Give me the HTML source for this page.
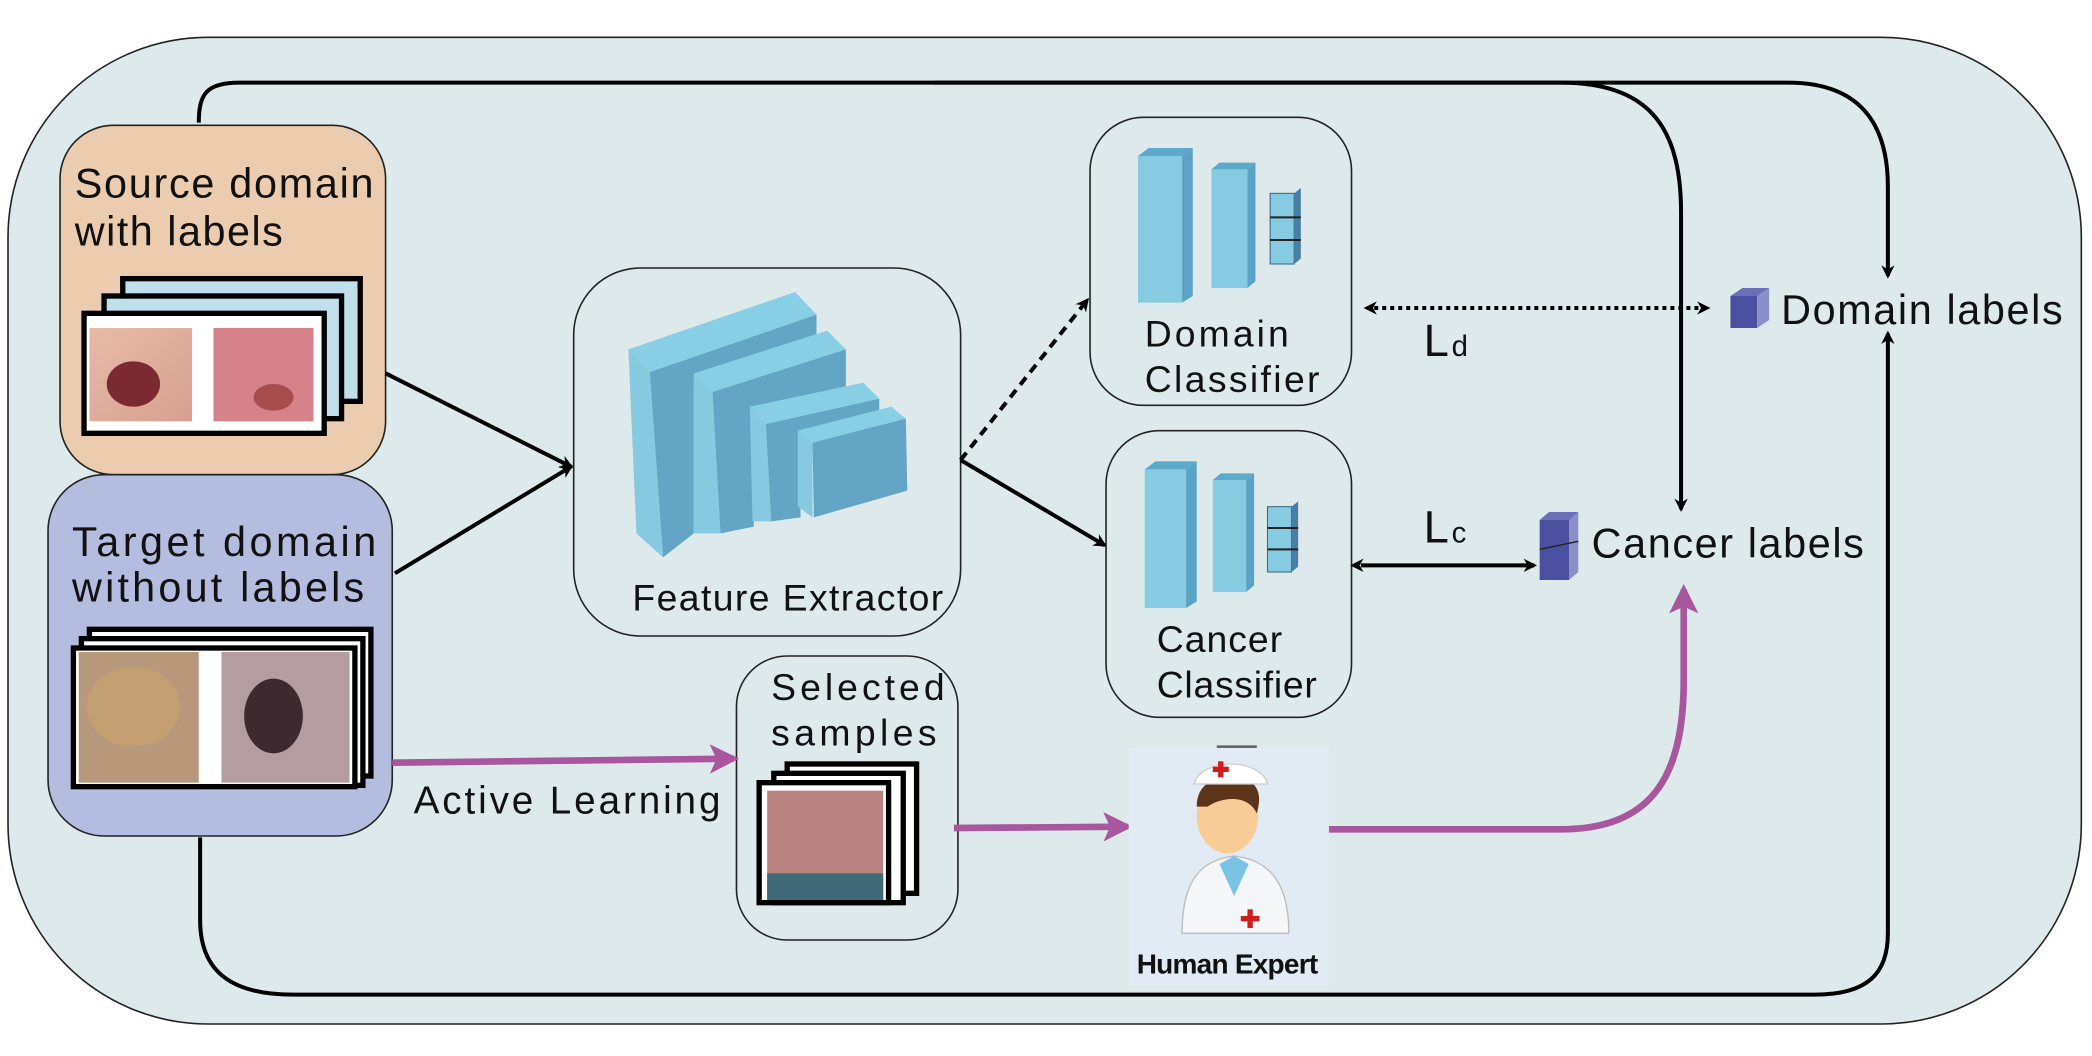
<!DOCTYPE html>
<html><head><meta charset="utf-8"><style>
html,body{margin:0;padding:0;background:#fff;}
svg{display:block;}
text{font-family:"Liberation Sans",Arial,sans-serif;fill:#111;}
</style></head><body>
<svg width="2092" height="1056" viewBox="0 0 1568 792" preserveAspectRatio="none" xmlns="http://www.w3.org/2000/svg">
<defs>
<marker id="ah" markerWidth="10" markerHeight="10" refX="8" refY="5" orient="auto" markerUnits="userSpaceOnUse"><path d="M0,0 L10,5 L0,10 L3,5 Z" fill="#000"/></marker>
<marker id="ahs" markerWidth="10" markerHeight="10" refX="2" refY="5" orient="auto-start-reverse" markerUnits="userSpaceOnUse"><path d="M0,0 L10,5 L0,10 L3,5 Z" fill="#000"/></marker>
<marker id="pa" markerWidth="22" markerHeight="22" refX="18" refY="11" orient="auto" markerUnits="userSpaceOnUse"><path d="M0,0 L22,11 L0,22 L5,11 Z" fill="#a8579e"/></marker>
<linearGradient id="skin1" x1="0" y1="0" x2="1" y2="1"><stop offset="0" stop-color="#e8b9a8"/><stop offset="1" stop-color="#d6a090"/></linearGradient>
</defs>
<rect x="6" y="28" width="1554" height="740" rx="150" fill="#dde9eb" stroke="#222" stroke-width="1.2"/>
<path d="M149,92 C149,70 155,62 180,62 L1170,62 C1240,62 1260,100 1260,160 L1260,382" fill="none" stroke="#000" stroke-width="3" marker-end="url(#ah)"/>
<path d="M700,62 L1340,62 C1400,62 1415,100 1415,140 L1415,207" fill="none" stroke="#000" stroke-width="3" marker-end="url(#ah)"/>
<path d="M150,628 L150,690 C150,730 175,746 220,746 L1360,746 C1400,746 1415,730 1415,700 L1415,250" fill="none" stroke="#000" stroke-width="3" marker-end="url(#ah)"/>
<rect x="45" y="94" width="244" height="262" rx="40" fill="#ecccae" stroke="#222" stroke-width="1.2"/>
<text x="56" y="148" font-size="31" textLength="224">Source domain</text>
<text x="56" y="184" font-size="31" textLength="156">with labels</text>
<rect x="92" y="209" width="178" height="92" fill="#bfe0ea" stroke="#000" stroke-width="4"/>
<rect x="78" y="222" width="178" height="92" fill="#bfe0ea" stroke="#000" stroke-width="4"/>
<rect x="63" y="235" width="180" height="90" fill="#fff" stroke="#000" stroke-width="4"/>
<rect x="67" y="246" width="77" height="70" fill="url(#skin1)"/>
<ellipse cx="100" cy="288" rx="20" ry="17" fill="#7a2a30"/>
<rect x="160" y="246" width="75" height="70" fill="#d5828a"/>
<ellipse cx="205" cy="298" rx="15" ry="10" fill="#a84d4e"/>
<rect x="36" y="356" width="258" height="271" rx="42" fill="#b4bddf" stroke="#222" stroke-width="1.2"/>
<text x="54" y="417" font-size="31" textLength="228">Target domain</text>
<text x="54" y="451" font-size="31" textLength="219">without labels</text>
<rect x="67" y="472" width="211" height="110" fill="#fff" stroke="#000" stroke-width="4"/>
<rect x="61" y="479" width="211" height="110" fill="#fff" stroke="#000" stroke-width="4"/>
<rect x="55" y="486" width="211" height="104" fill="#fff" stroke="#000" stroke-width="4"/>
<rect x="59" y="489" width="90" height="98" fill="#b7987a"/>
<ellipse cx="100" cy="530" rx="35" ry="30" fill="#c4a26e" opacity="0.7"/>
<rect x="166" y="489" width="96" height="98" fill="#b39da0"/>
<ellipse cx="205" cy="537" rx="22" ry="28" fill="#3d2a30"/>
<line x1="289" y1="280" x2="428" y2="350" stroke="#000" stroke-width="3" marker-end="url(#ah)"/>
<line x1="296" y1="430" x2="428" y2="350" stroke="#000" stroke-width="3" marker-end="url(#ah)"/>
<rect x="430" y="201" width="290" height="276" rx="50" fill="#dde9eb" stroke="#222" stroke-width="1.2"/>
<polygon points="471,262 596,219 612,236 487,279" fill="#88cfe6"/>
<polygon points="471,262 487,279 497,418 477,400" fill="#86c9e0"/>
<polygon points="487,279 612,236 612,260 520,290 520,400 497,418" fill="#64a5c5"/>
<polygon points="520,280 620,248 634,262 534,294" fill="#88cfe6"/>
<polygon points="520,280 534,294 540,400 520,400" fill="#86c9e0"/>
<polygon points="534,294 634,262 634,290 565,310 565,395 540,400" fill="#64a5c5"/>
<polygon points="562,305 647,287 659,299 574,318" fill="#88cfe6"/>
<polygon points="562,305 574,318 578,391 564,391" fill="#86c9e0"/>
<polygon points="574,318 659,299 659,322 600,330 600,388 578,391" fill="#64a5c5"/>
<polygon points="598,323 668,305 679,314 609,332" fill="#88cfe6"/>
<polygon points="598,323 609,332 609,388 598,380" fill="#86c9e0"/>
<polygon points="609,332 679,314 680,368 610,388" fill="#64a5c5"/>
<text x="474" y="458" font-size="28" textLength="233">Feature Extractor</text>
<line x1="720" y1="345" x2="815" y2="225" stroke="#000" stroke-width="3" stroke-dasharray="7,5" marker-end="url(#ah)"/>
<line x1="720" y1="345" x2="828" y2="409" stroke="#000" stroke-width="3" marker-end="url(#ah)"/>
<rect x="817" y="88" width="196" height="216" rx="40" fill="#dde9eb" stroke="#222" stroke-width="1.2"/>
<g>
<rect x="853" y="117" width="33" height="110" fill="#86cbe2"/><polygon points="853,117 861,111 894,111 886,117" fill="#5da9ca"/><polygon points="886,117 894,111 894,222 886,227" fill="#5aa3c4"/>
<rect x="908" y="127" width="27" height="89" fill="#86cbe2"/><polygon points="908,127 914,122 941,122 935,127" fill="#5da9ca"/><polygon points="935,127 941,122 941,211 935,216" fill="#5aa3c4"/>
<rect x="952" y="145" width="18" height="53" fill="#86cbe2" stroke="#3b6b88" stroke-width="0.8"/><polygon points="970,145 975,141 975,194 970,198" fill="#4a7fa5"/>
<line x1="952" y1="163" x2="975" y2="163" stroke="#222" stroke-width="1.5"/><line x1="952" y1="180" x2="975" y2="180" stroke="#222" stroke-width="1.5"/>
</g>
<text x="858" y="260" font-size="28" textLength="108">Domain</text>
<text x="858" y="294" font-size="28" textLength="131">Classifier</text>
<rect x="829" y="323" width="184" height="215" rx="40" fill="#dde9eb" stroke="#222" stroke-width="1.2"/>
<g>
<rect x="858" y="352" width="31" height="104" fill="#86cbe2"/><polygon points="858,352 866,346 897,346 889,352" fill="#5da9ca"/><polygon points="889,352 897,346 897,451 889,456" fill="#5aa3c4"/>
<rect x="909" y="360" width="25" height="84" fill="#86cbe2"/><polygon points="909,360 915,355 940,355 934,360" fill="#5da9ca"/><polygon points="934,360 940,355 940,439 934,444" fill="#5aa3c4"/>
<rect x="950" y="380" width="18" height="49" fill="#86cbe2" stroke="#3b6b88" stroke-width="0.8"/><polygon points="968,380 973,376 973,425 968,429" fill="#4a7fa5"/>
<line x1="950" y1="396" x2="973" y2="396" stroke="#222" stroke-width="1.5"/><line x1="950" y1="412" x2="973" y2="412" stroke="#222" stroke-width="1.5"/>
</g>
<text x="867" y="489" font-size="28" textLength="94">Cancer</text>
<text x="867" y="523" font-size="28" textLength="120">Classifier</text>
<line x1="1030" y1="231" x2="1280" y2="231" stroke="#000" stroke-width="3" stroke-dasharray="3,3" marker-end="url(#ah)" marker-start="url(#ahs)"/>
<text x="1067" y="267" font-size="34">L</text><text x="1088" y="267" font-size="22">d</text>
<line x1="1020" y1="424" x2="1150" y2="424" stroke="#000" stroke-width="3" marker-end="url(#ah)" marker-start="url(#ahs)"/>
<text x="1067" y="407" font-size="34">L</text><text x="1088" y="407" font-size="22">c</text>
<rect x="1297" y="222" width="20" height="24" fill="#4a4fa0"/><polygon points="1317,222 1326,216 1326,240 1317,246" fill="#8a8fc8"/><polygon points="1297,222 1306,216 1326,216 1317,222" fill="#6a70b8"/>
<text x="1335" y="243" font-size="31" textLength="211">Domain labels</text>
<rect x="1154" y="390" width="22" height="45" fill="#4a4fa0"/><polygon points="1176,390 1183,384 1183,429 1176,435" fill="#8a8fc8"/><polygon points="1154,390 1161,384 1183,384 1176,390" fill="#6a70b8"/>
<line x1="1154" y1="412" x2="1183" y2="406" stroke="#222" stroke-width="1"/>
<text x="1193" y="418" font-size="31" textLength="204">Cancer labels</text>
<rect x="552" y="492" width="166" height="213" rx="38" fill="#dde9eb" stroke="#222" stroke-width="1.2"/>
<text x="578" y="525" font-size="28" textLength="130">Selected</text>
<text x="578" y="559" font-size="28" textLength="124">samples</text>
<rect x="590" y="573" width="97" height="97" fill="#fff" stroke="#000" stroke-width="4"/>
<rect x="580" y="580" width="97" height="97" fill="#fff" stroke="#000" stroke-width="4"/>
<rect x="569" y="587" width="97" height="90" fill="#fff" stroke="#000" stroke-width="4"/>
<rect x="575" y="593" width="87" height="82" fill="#b9817f"/>
<rect x="575" y="655" width="87" height="20" fill="#3f6a78"/>
<line x1="294" y1="572" x2="550" y2="569" stroke="#a8579e" stroke-width="5" marker-end="url(#pa)"/>
<text x="310" y="610" font-size="29" textLength="230">Active Learning</text>
<line x1="715" y1="621" x2="845" y2="620" stroke="#a8579e" stroke-width="5" marker-end="url(#pa)"/>
<path d="M996,622 L1170,622 C1240,622 1262,580 1262,510 L1262,442" fill="none" stroke="#a8579e" stroke-width="5" marker-end="url(#pa)"/>
<rect x="846" y="561" width="150" height="178" fill="#e2ebf3"/>
<rect x="912" y="559" width="30" height="2" fill="#666"/>
<path d="M886,700 C886,660 900,645 925,642 C950,645 966,660 966,700 Z" fill="#f4f6f8" stroke="#bbb"/>
<polygon points="914,648 925,642 936,648 925,672" fill="#79c4e4"/>
<ellipse cx="920" cy="612" rx="23" ry="28" fill="#f7cc97"/>
<path d="M897,605 C897,585 915,580 935,585 C945,590 945,600 942,610 C935,595 915,598 905,605 Z" fill="#5b3419"/>
<path d="M895,588 C900,568 945,568 950,588 Z" fill="#fff" stroke="#ccc"/>
<rect x="913" y="571" width="4" height="12" fill="#d01c1c"/><rect x="909" y="575" width="12" height="4" fill="#d01c1c"/>
<rect x="935" y="682" width="4" height="14" fill="#d01c1c"/><rect x="930" y="687" width="14" height="4" fill="#d01c1c"/>
<text x="852" y="730" font-size="21" font-weight="bold" textLength="136">Human Expert</text>
</svg>
</body></html>
